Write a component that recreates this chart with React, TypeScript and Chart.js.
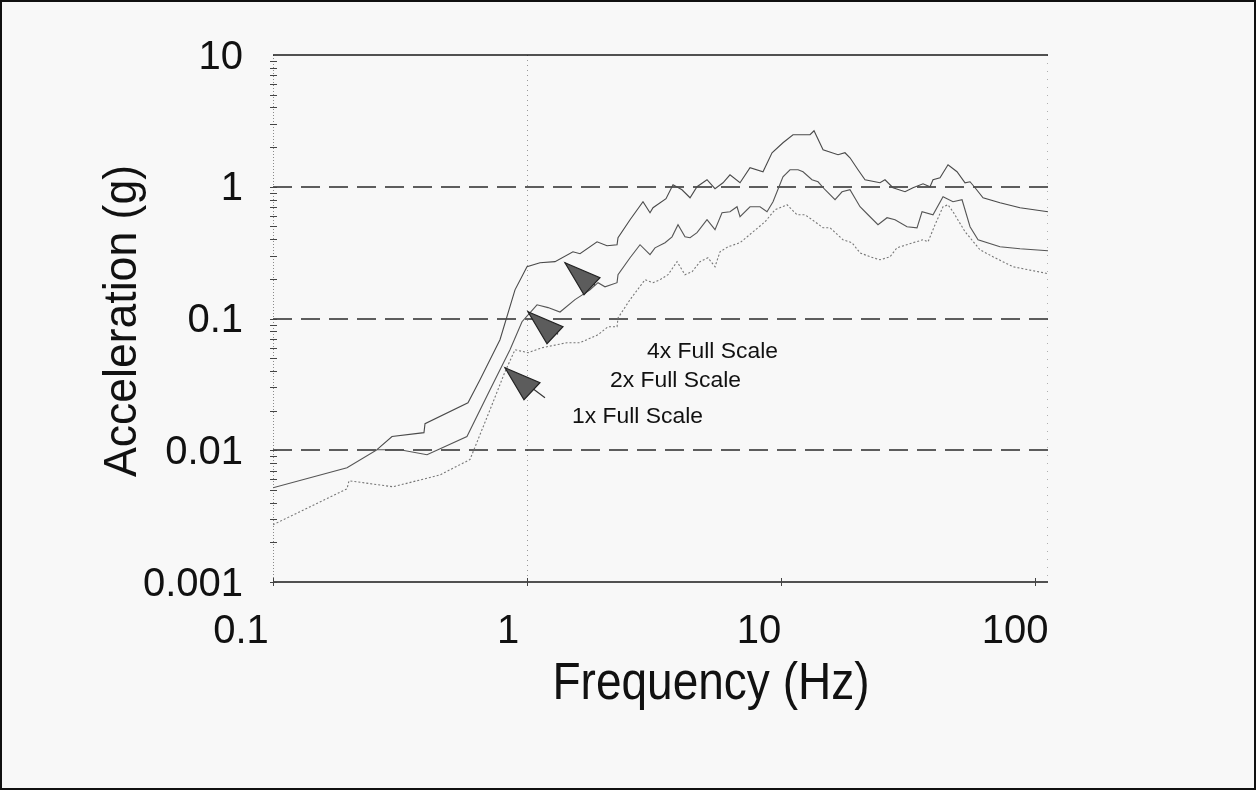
import React, { useEffect, useRef } from "react";
import { Chart, registerables } from "chart.js";

Chart.register(...registerables);

// ---- data (frequency in Hz, acceleration in g) ----
const freq4x = [0.2566, 0.2941, 0.393, 0.3967, 0.5856, 0.6531, 0.7828, 0.8969, 1.0, 1.125, 1.289, 1.517, 1.617, 1.887, 2.065, 2.262, 2.282, 2.545, 2.862, 3.05, 3.134, 3.526, 3.757, 4.075, 4.384, 4.67, 5.113, 5.498, 5.911, 6.297, 6.897, 7.551, 8.495, 9.218, 10.18, 11.15, 13.01, 13.49, 14.64, 16.77, 17.86, 18.69, 20.1, 21.42, 24.53, 25.67, 27.6, 30.78, 33.09, 36.24, 38.61, 39.67, 42.27, 45.45, 49.31, 53.03, 55.49, 58.07, 62.43, 72.8, 87.32, 112.5];
const acc4x = [0.0101, 0.0127, 0.0136, 0.0159, 0.0229, 0.0343, 0.069, 0.165, 0.247, 0.265, 0.27, 0.321, 0.31, 0.382, 0.357, 0.363, 0.41, 0.562, 0.769, 0.635, 0.693, 0.811, 1.035, 0.949, 0.825, 1.0, 1.13, 0.966, 1.072, 1.233, 1.072, 1.394, 1.3, 1.812, 2.158, 2.481, 2.481, 2.661, 1.909, 1.75, 1.812, 1.66, 1.346, 1.13, 1.072, 1.13, 0.983, 0.916, 0.983, 1.054, 1.0, 1.13, 1.17, 1.469, 1.3, 1.072, 1.091, 0.983, 0.825, 0.756, 0.693, 0.646];

const freq2x = [0.1, 0.1956, 0.2566, 0.3162, 0.404, 0.5802, 0.7152, 0.8571, 0.9557, 1.095, 1.21, 1.349, 1.545, 1.77, 1.904, 2.028, 2.262, 2.282, 2.545, 2.786, 3.05, 3.191, 3.495, 3.724, 3.931, 4.188, 4.384, 4.67, 5.113, 5.498, 5.858, 6.297, 6.712, 6.897, 7.551, 8.268, 8.809, 9.302, 10.18, 10.85, 11.67, 12.21, 13.24, 13.99, 14.91, 16.32, 17.39, 18.69, 20.47, 22.01, 24.09, 26.15, 28.11, 31.34, 34.31, 35.91, 39.67, 43.44, 47.55, 51.61, 55.49, 59.67, 72.8, 87.32, 112.5];
const acc2x = [0.00519, 0.00737, 0.0101, 0.0101, 0.00924, 0.0127, 0.0288, 0.0579, 0.0945, 0.127, 0.121, 0.112, 0.139, 0.165, 0.187, 0.174, 0.187, 0.215, 0.289, 0.363, 0.305, 0.344, 0.376, 0.417, 0.515, 0.417, 0.41, 0.448, 0.562, 0.472, 0.635, 0.646, 0.705, 0.592, 0.705, 0.705, 0.646, 0.769, 1.191, 1.346, 1.346, 1.3, 1.13, 1.091, 0.949, 0.797, 0.916, 0.949, 0.705, 0.613, 0.515, 0.582, 0.562, 0.497, 0.488, 0.646, 0.613, 0.84, 0.769, 0.797, 0.497, 0.396, 0.35, 0.338, 0.327];

const freq1x = [0.1, 0.1956, 0.1992, 0.2968, 0.4544, 0.5963, 0.7152, 0.8192, 0.8969, 1.009, 1.146, 1.437, 1.617, 1.904, 2.084, 2.262, 2.282, 2.545, 2.915, 3.134, 3.34, 3.591, 3.896, 4.188, 4.464, 4.799, 5.16, 5.498, 5.752, 6.184, 6.897, 7.69, 8.65, 9.472, 10.56, 11.56, 12.43, 13.61, 14.64, 15.6, 17.54, 19.03, 20.47, 22.41, 24.53, 26.86, 28.62, 33.09, 36.24, 37.92, 40.4, 43.44, 45.45, 47.55, 53.03, 60.76, 68.33, 81.92, 112.5];
const acc1x = [0.00272, 0.0051, 0.00587, 0.00528, 0.0065, 0.0085, 0.0203, 0.0394, 0.0579, 0.055, 0.06, 0.0655, 0.0655, 0.0753, 0.0866, 0.0866, 0.101, 0.139, 0.197, 0.187, 0.197, 0.215, 0.27, 0.215, 0.226, 0.27, 0.289, 0.247, 0.321, 0.35, 0.376, 0.448, 0.542, 0.669, 0.73, 0.613, 0.613, 0.542, 0.488, 0.488, 0.396, 0.376, 0.315, 0.294, 0.279, 0.294, 0.344, 0.376, 0.396, 0.382, 0.515, 0.705, 0.73, 0.646, 0.456, 0.332, 0.294, 0.247, 0.219];

const seriesNames = ["4x Full Scale", "2x Full Scale", "1x Full Scale"];

const xTickValues = [0.1, 1, 10, 100];
const xTickLabels = ["0.1", "1", "10", "100"];
const yTickValues = [10, 1, 0.1, 0.01, 0.001];
const yTickLabels = ["10", "1", "0.1", "0.01", "0.001"];
const dashedGridValues = [1, 0.1, 0.01];

const xTitle = "Frequency (Hz)";
const yTitle = "Acceleration (g)";

// annotation anchors (data coordinates): arrow tip and label start
const arrowTipFreq = [1.411, 1.009, 0.819];
const arrowTipAcc = [0.265, 0.1125, 0.0423];
const labelFreq = [2.968, 2.122, 1.504];
const labelAcc = [0.0504, 0.0303, 0.0162];

// ---- styling ----
const FONT = '"Liberation Sans", Arial, Helvetica, sans-serif';
const W = 1256;
const H = 790;

function drawFitted(
  ctx: CanvasRenderingContext2D,
  text: string,
  x: number,
  y: number,
  width: number,
  align: CanvasTextAlign
) {
  const w = ctx.measureText(text).width;
  const s = width / w;
  ctx.save();
  ctx.translate(x, y);
  ctx.scale(s, 1);
  ctx.textAlign = align;
  ctx.fillText(text, 0, 0);
  ctx.restore();
}

const framePlugin = {
  id: "frame",
  beforeDatasetsDraw(chart: any) {
    const { ctx, chartArea, scales } = chart;
    const xs = scales.x;
    const ys = scales.y;
    const { left, right, top, bottom } = chartArea;
    ctx.save();
    // dotted left axis
    ctx.strokeStyle = "#8a8a8a";
    ctx.lineWidth = 1;
    ctx.setLineDash([1, 2]);
    ctx.beginPath();
    ctx.moveTo(left + 0.5, top);
    ctx.lineTo(left + 0.5, bottom);
    ctx.stroke();
    // faint dotted right edge
    ctx.strokeStyle = "#b0b0b0";
    ctx.setLineDash([1, 7]);
    ctx.beginPath();
    ctx.moveTo(right - 0.5, top);
    ctx.lineTo(right - 0.5, bottom);
    ctx.stroke();
    // dotted vertical gridline at 1 Hz
    const x1 = Math.round(xs.getPixelForValue(1)) + 0.5;
    ctx.strokeStyle = "#9a9a9a";
    ctx.setLineDash([1, 4]);
    ctx.beginPath();
    ctx.moveTo(x1, top);
    ctx.lineTo(x1, bottom);
    ctx.stroke();
    // dashed horizontal gridlines
    ctx.strokeStyle = "#2a2a2a";
    ctx.lineWidth = 1.5;
    ctx.setLineDash([19, 9]);
    dashedGridValues.forEach((v) => {
      const y = Math.round(ys.getPixelForValue(v));
      ctx.beginPath();
      ctx.moveTo(left, y);
      ctx.lineTo(right, y);
      ctx.stroke();
    });
    // solid top and bottom lines
    ctx.setLineDash([]);
    ctx.strokeStyle = "#1a1a1a";
    ctx.lineWidth = 1.6;
    [10, 0.001].forEach((v) => {
      const y = Math.round(ys.getPixelForValue(v));
      ctx.beginPath();
      ctx.moveTo(left, y);
      ctx.lineTo(right, y);
      ctx.stroke();
    });
    // minor tick marks on left axis
    ctx.strokeStyle = "#444";
    ctx.lineWidth = 1;
    for (let e = -3; e < 1; e++) {
      for (let m = 1; m <= 9; m++) {
        const v = m * Math.pow(10, e);
        const y = Math.round(ys.getPixelForValue(v)) + 0.5;
        ctx.beginPath();
        ctx.moveTo(left - 3, y);
        ctx.lineTo(left + 4, y);
        ctx.stroke();
      }
    }
    // tick marks on bottom axis
    xTickValues.forEach((v) => {
      const x = Math.round(xs.getPixelForValue(v)) + 0.5;
      ctx.beginPath();
      ctx.moveTo(x, bottom - 4);
      ctx.lineTo(x, bottom + 4);
      ctx.stroke();
    });
    ctx.restore();
  },
  afterDatasetsDraw(chart: any) {
    const { ctx, scales } = chart;
    const xs = scales.x;
    const ys = scales.y;
    ctx.save();
    // arrows
    for (let i = 0; i < arrowTipFreq.length; i++) {
      const tx = xs.getPixelForValue(arrowTipFreq[i]);
      const ty = ys.getPixelForValue(arrowTipAcc[i]);
      const tail = i === 2 ? 40 : 30;
      ctx.strokeStyle = "#333";
      ctx.lineWidth = 1.1;
      ctx.beginPath();
      ctx.moveTo(tx, ty);
      ctx.lineTo(tx + tail, ty + tail * 0.75);
      ctx.stroke();
      ctx.fillStyle = "#5c5c5c";
      ctx.strokeStyle = "#222";
      ctx.lineWidth = 1.2;
      ctx.beginPath();
      ctx.moveTo(tx, ty);
      ctx.lineTo(tx + 35, ty + 15);
      ctx.lineTo(tx + 19, ty + 32);
      ctx.closePath();
      ctx.fill();
      ctx.stroke();
    }
    // labels
    ctx.fillStyle = "#111";
    ctx.font = `22px ${FONT}`;
    ctx.textBaseline = "alphabetic";
    for (let i = 0; i < seriesNames.length; i++) {
      const lx = xs.getPixelForValue(labelFreq[i]);
      const ly = ys.getPixelForValue(labelAcc[i]);
      drawFitted(ctx, seriesNames[i], lx, ly, 131, "left");
    }
    ctx.restore();
  },
  afterDraw(chart: any) {
    const { ctx, scales } = chart;
    const xs = scales.x;
    const ys = scales.y;
    ctx.save();
    ctx.fillStyle = "#111";
    ctx.textBaseline = "alphabetic";
    ctx.font = `40px ${FONT}`;
    ctx.textAlign = "right";
    yTickValues.forEach((v, i) => {
      const y = ys.getPixelForValue(v);
      ctx.fillText(yTickLabels[i], 243, y + 13.5);
    });
    const xOffsets = [-32, -19, -22, -20];
    ctx.textAlign = "center";
    xTickValues.forEach((v, i) => {
      const x = xs.getPixelForValue(v);
      ctx.fillText(xTickLabels[i], x + xOffsets[i], 643);
    });
    // axis titles
    ctx.font = `51px ${FONT}`;
    drawFitted(ctx, xTitle, 711, 699, 317, "center");
    ctx.font = `46px ${FONT}`;
    ctx.save();
    ctx.translate(136, 321);
    ctx.rotate(-Math.PI / 2);
    drawFitted(ctx, yTitle, 0, 0, 312, "center");
    ctx.restore();
    ctx.restore();
  },
};

function toPoints(xs: number[], ys: number[]) {
  return xs.map((x, i) => ({ x, y: ys[i] }));
}

export default function App() {
  const canvasRef = useRef<HTMLCanvasElement | null>(null);

  useEffect(() => {
    const canvas = canvasRef.current;
    if (!canvas) return;
    const chart = new Chart(canvas, {
      type: "line",
      data: {
        datasets: [
          {
            label: seriesNames[0],
            data: toPoints(freq4x, acc4x),
            borderColor: "#4a4a4a",
            borderWidth: 1.1,
            pointRadius: 0,
            tension: 0,
            fill: false,
          },
          {
            label: seriesNames[1],
            data: toPoints(freq2x, acc2x),
            borderColor: "#555555",
            borderWidth: 1.1,
            pointRadius: 0,
            tension: 0,
            fill: false,
          },
          {
            label: seriesNames[2],
            data: toPoints(freq1x, acc1x),
            borderColor: "#777777",
            borderWidth: 1.1,
            borderDash: [2, 2],
            pointRadius: 0,
            tension: 0,
            fill: false,
          },
        ],
      },
      options: {
        animation: false,
        responsive: false,
        maintainAspectRatio: false,
        devicePixelRatio: 1,
        layout: { padding: { left: 273, right: W - 1048, top: 55, bottom: H - 582 } },
        scales: {
          x: { type: "logarithmic", min: 0.1, max: 112.5, display: false },
          y: { type: "logarithmic", min: 0.001, max: 10, display: false },
        },
        plugins: {
          legend: { display: false },
          tooltip: { enabled: false },
        },
        events: [],
      },
      plugins: [framePlugin],
    });
    return () => chart.destroy();
  }, []);

  return (
    <div
      style={{
        position: "absolute",
        left: 0,
        top: 0,
        width: W,
        height: H,
        background: "#f8f8f8",
      }}
    >
      <canvas ref={canvasRef} width={W} height={H} style={{ display: "block" }} />
      <div
        style={{
          position: "absolute",
          left: 0,
          top: 0,
          width: W,
          height: H,
          boxSizing: "border-box",
          border: "2px solid #111",
          pointerEvents: "none",
        }}
      />
    </div>
  );
}
